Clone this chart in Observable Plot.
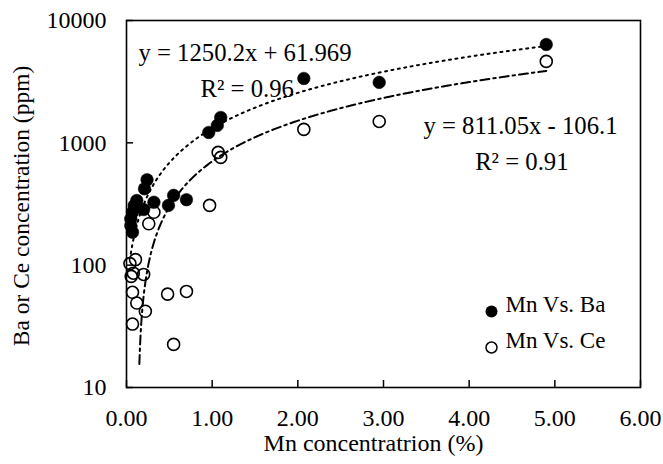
<!DOCTYPE html>
<html>
<head>
<meta charset="utf-8">
<script src="https://cdn.jsdelivr.net/npm/d3@7"></script>
<script src="https://cdn.jsdelivr.net/npm/@observablehq/plot@0.6"></script>
<style>
  html, body { margin: 0; padding: 0; background: #fff; }
  #chart { width: 663px; height: 464px; }
</style>
</head>
<body>
<div id="chart"></div>
<script>
// ---- data ----
const seriesNames = ["Mn Vs. Ba", "Mn Vs. Ce"];

const baMn = [0.05, 0.05, 0.07, 0.07, 0.09, 0.12, 0.20, 0.21, 0.24, 0.32, 0.49, 0.55, 0.70, 0.96, 1.06, 1.10, 2.07, 2.95, 4.90];
const baPpm = [211, 239, 186, 271, 308, 338, 285, 421, 499, 327, 308, 372, 343, 1216, 1388, 1613, 3360, 3120, 6370];

const ceMn = [0.04, 0.105, 0.08, 0.055, 0.20, 0.07, 0.12, 0.22, 0.07, 0.48, 0.70, 0.55, 0.26, 0.32, 0.97, 1.07, 1.10, 2.07, 2.95, 4.90];
const cePpm = [103, 111, 86, 81, 84, 60, 49, 42, 33, 58, 61, 22.5, 218, 271, 308, 835, 760, 1288, 1496, 4630];

// trendline equations shown in the chart
const baSlope = 1250.2, baIntercept = 61.969, baTrendRange = [0.05, 4.90];
const ceSlope = 811.05, ceIntercept = -106.1, ceTrendRange = [0.15, 4.90];
const baEquation = "y = 1250.2x + 61.969", baR2 = "R² = 0.96";
const ceEquation = "y = 811.05x - 106.1", ceR2 = "R² = 0.91";

const xTicks = [0, 1, 2, 3, 4, 5, 6];
const yTicks = [10, 100, 1000, 10000];
const xLabel = "Mn concentratrion (%)";
const yLabel = "Ba or Ce concentration (ppm)";

// ---- build tables ----
const ba = baMn.map((x, i) => ({x, y: baPpm[i]}));
const ce = ceMn.map((x, i) => ({x, y: cePpm[i]}));
function trend(slope, intercept, [x0, x1]) {
  return d3.range(0, 601).map(i => {
    const x = x0 + (x1 - x0) * i / 600;
    return {x, y: slope * x + intercept};
  });
}
const baTrend = trend(baSlope, baIntercept, baTrendRange);
const ceTrend = trend(ceSlope, ceIntercept, ceTrendRange).filter(d => d.y > 0);

const W = 663, H = 464, mL = 126, mR = 23, mT = 20, mB = 77;
const fw = W - mL - mR, fh = H - mT - mB;

const chart = Plot.plot({
  width: W, height: H,
  marginLeft: mL, marginRight: mR, marginTop: mT, marginBottom: mB,
  style: {fontFamily: "'Liberation Serif', 'Times New Roman', serif", fontSize: "24px", color: "black", background: "white"},
  x: {domain: [0, 6]},
  y: {type: "log", domain: [10, 10000]},
  marks: [
    // trendlines
    Plot.line(baTrend, {x: "x", y: "y", stroke: "black", strokeWidth: 2, strokeDasharray: "2,4.5", clip: true}),
    Plot.line(ceTrend, {x: "x", y: "y", stroke: "black", strokeWidth: 2, strokeDasharray: "9,4,2.5,4", clip: true}),
    // data
    Plot.dot(ba, {x: "x", y: "y", r: 6.3, fill: "black", stroke: "black", strokeWidth: 0.5}),
    Plot.dot(ce, {x: "x", y: "y", r: 6, fill: "none", stroke: "black", strokeWidth: 1.6}),
    // axes (labels) and inward ticks
    Plot.axisX({ticks: xTicks, tickFormat: d3.format(".2f"), tickSize: 0, tickPadding: 21, label: null}),
    Plot.axisY({ticks: yTicks, tickFormat: d3.format("d"), tickSize: 0, tickPadding: 20, label: null}),
    Plot.tickX(xTicks, {x: d => d, stroke: "black", strokeWidth: 1.5, insetTop: fh - 7}),
    Plot.tickY(yTicks, {y: d => d, stroke: "black", strokeWidth: 1.5, insetRight: fw - 7}),
    Plot.frame({stroke: "black", strokeWidth: 1.6}),
    // axis titles
    Plot.text([xLabel], {frameAnchor: "bottom", textAnchor: "middle", dx: -10, dy: 63, fill: "black"}),
    Plot.text([yLabel], {frameAnchor: "left", textAnchor: "middle", rotate: -90, dx: -105, dy: 2, fill: "black", fontSize: 23.5}),
    // equations
    Plot.text([baEquation], {frameAnchor: "top-left", textAnchor: "start", dx: 12, dy: 23, fill: "black", fontSize: 24.7}),
    Plot.text([baR2], {frameAnchor: "top-left", textAnchor: "start", dx: 74, dy: 59, fill: "black", fontSize: 24.7}),
    Plot.text([ceEquation], {frameAnchor: "top-right", textAnchor: "end", dx: -23, dy: 96, fill: "black", fontSize: 24.7}),
    Plot.text([ceR2], {frameAnchor: "top-right", textAnchor: "end", dx: -72, dy: 132, fill: "black", fontSize: 24.7}),
    // legend
    Plot.dot([seriesNames[0]], {x: null, y: null, frameAnchor: "bottom-right", dx: -149, dy: -76, r: 6, fill: "black"}),
    Plot.dot([seriesNames[1]], {x: null, y: null, frameAnchor: "bottom-right", dx: -149, dy: -40, r: 5.5, fill: "none", stroke: "black", strokeWidth: 1.5}),
    Plot.text([seriesNames[0]], {frameAnchor: "bottom-right", textAnchor: "start", dx: -135, dy: -76, fill: "black", fontSize: 23}),
    Plot.text([seriesNames[1]], {frameAnchor: "bottom-right", textAnchor: "start", dx: -135, dy: -40, fill: "black", fontSize: 23})
  ]
});
document.getElementById("chart").appendChild(chart);
</script>
</body>
</html>
